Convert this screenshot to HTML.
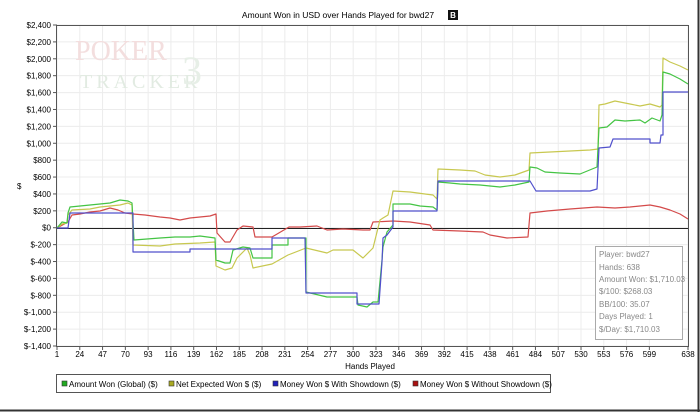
<!DOCTYPE html>
<html><head><style>
body{margin:0;background:#fff;}
svg text{font-family:"Liberation Sans",sans-serif;}
</style></head><body>
<svg width="700" height="412" xmlns="http://www.w3.org/2000/svg">
<rect x="0" y="0" width="700" height="412" fill="#fff"/>
<line x1="0" y1="410.5" x2="700" y2="410.5" stroke="#333" stroke-width="2"/>
<line x1="698.5" y1="0" x2="698.5" y2="412" stroke="#333" stroke-width="2"/>
<text x="338" y="18" font-size="8.5" text-anchor="middle" fill="#000">Amount Won in USD over Hands Played for bwd27</text>
<rect x="448" y="10" width="10" height="10" fill="#111"/>
<text x="453" y="18" font-size="8" font-weight="bold" fill="#fff" text-anchor="middle">B</text>
<g id="grid" stroke="#ececec" stroke-width="1"></g>
<text x="75" y="60" font-size="28" fill="#f3dede" style="font-family:'Liberation Serif',serif">POKER</text>
<text x="80" y="88" font-size="20" fill="#e2ebe2" style="font-family:'Liberation Serif',serif" letter-spacing="4">TRACKER</text>
<text x="182" y="84" font-size="40" fill="#e7efe7" style="font-family:'Liberation Serif',serif">3</text>
<g id="ticks" font-size="8" fill="#000"></g>
<line x1="57" y1="228.5" x2="688" y2="228.5" stroke="#222" stroke-width="1"/>
<g fill="none" stroke-width="1.2" stroke-linejoin="round">
<polyline stroke="#d44a4a" points="57,228 68,222 72,215 80,214 90,212 100,211 110,208 118,210 125,213 133,214 145,215 160,217 170,218 180,220 190,218 200,217 210,216 216,214 217,233 225,242 230,242 237,230 243,226 253,227 255,237 272,237 289,227 300,227 317,226 327,230 343,229 363,230 370,230 373,222 393,221 410,222 430,225 433,230 460,231 483,232 490,235 507,238 528,237 530,213 547,211 570,209 597,207 615,208 630,207 650,205 660,207 670,210 680,214 688,219"/>
<polyline stroke="#c8c850" points="57,228 62,224 67,223 68,215 72,210 90,209 100,207 110,206 120,205 128,203 132,205 133,245 160,246 175,244 200,243 215,242 216,266 225,270 232,268 237,258 247,248 250,255 253,268 272,264 288,255 306,248 327,253 333,250 353,250 363,258 373,248 380,220 383,218 388,215 393,191 410,192 425,194 433,195 437,199 438,169 460,170 475,171 485,175 500,177 515,175 529,170 530,153 550,152 570,151 590,150 598,149 599,105 605,104 615,101 630,104 640,106 650,104 660,107 662,105 663,58 670,62 680,66 688,70"/>
<polyline stroke="#44c444" points="57,228 62,222 67,223 68,213 70,207 80,206 90,205 100,204 110,203 120,200 128,201 132,203 134,240 160,238 175,237 190,237 200,236 215,238 216,260 225,263 230,263 233,250 243,247 250,248 253,258 272,258 272,245 288,245 288,238 306,238 306,292 327,297 357,297 358,305 367,307 373,302 378,302 382,260 383,247 387,232 393,225 393,204 410,204 420,206 433,207 437,210 438,182 450,183 460,184 480,185 500,187 515,185 529,182 530,167 537,168 545,172 560,173 580,174 597,167 599,128 607,127 615,120 625,121 640,120 645,123 652,118 660,121 662,115 663,72 670,74 680,79 688,84"/>
<polyline stroke="#5050cc" points="57,228 68,228 70,213 133,213 133,252 190,252 190,249 245,249 255,249 272,249 272,238 305,238 306,293 357,293 357,304 379,304 382,262 383,238 387,235 393,227 393,211 437,211 438,181 529,181 530,181 536,191 590,191 597,189 599,148 610,147 613,139 650,139 650,143 660,143 661,135 663,135 663,92 688,92"/>
</g>
<line x1="56.5" y1="25" x2="56.5" y2="347" stroke="#555"/>
<line x1="56" y1="346.5" x2="688" y2="346.5" stroke="#555"/>
<line x1="688.5" y1="25" x2="688.5" y2="347" stroke="#555"/>
<line x1="56" y1="25.5" x2="688" y2="25.5" stroke="#555"/>
<text x="17" y="189" font-size="8" fill="#000">$</text>
<text x="370" y="369" font-size="8" text-anchor="middle" fill="#000">Hands Played</text>
<rect x="595.5" y="246.5" width="87" height="93" fill="#fff" stroke="#aaa"/>
<g font-size="8" fill="#888">
<text x="599" y="257">Player: bwd27</text>
<text x="599" y="270">Hands: 638</text>
<text x="599" y="282">Amount Won: $1,710.03</text>
<text x="599" y="294">$/100: $268.03</text>
<text x="599" y="307">BB/100: 35.07</text>
<text x="599" y="319">Days Played: 1</text>
<text x="599" y="332">$/Day: $1,710.03</text>
</g>
<rect x="56.5" y="374.5" width="494" height="18" fill="#fff" stroke="#555"/>
<g font-size="8" fill="#000">
<rect x="62" y="381" width="5" height="5" fill="#2a2" stroke="#333" stroke-width="0.6"/><text x="69" y="387">Amount Won (Global) ($)</text>
<rect x="169" y="381" width="5" height="5" fill="#aa2" stroke="#333" stroke-width="0.6"/><text x="176" y="387">Net Expected Won $ ($)</text>
<rect x="273" y="381" width="5" height="5" fill="#22b" stroke="#333" stroke-width="0.6"/><text x="280" y="387">Money Won $ With Showdown ($)</text>
<rect x="413" y="381" width="5" height="5" fill="#a11" stroke="#333" stroke-width="0.6"/><text x="420" y="387">Money Won $ Without Showdown ($)</text>
</g>
<script>
var g=document.getElementById('grid'),t=document.getElementById('ticks'),ns='http://www.w3.org/2000/svg';
function mk(n,a,p){var e=document.createElementNS(ns,n);for(var k in a)e.setAttribute(k,a[k]);p.appendChild(e);return e;}
for(var i=0;i<=19;i++){var v=2400-200*i,y=25+i*321/19;
 mk('line',{x1:57,x2:688,y1:y,y2:y},g);
 mk('line',{x1:53,x2:57,y1:y,y2:y,stroke:'#555'},t);
 var s=v<0?'$-'+Math.abs(v).toLocaleString('en-US'):'$'+v.toLocaleString('en-US');
 var tx=mk('text',{x:51,y:y+3,'text-anchor':'end'},t);tx.textContent=s;}
var hs=[];for(var h=1;h<=599;h+=23)hs.push(h);hs.push(638);
hs.forEach(function(h){var x=57+(h-1)*631/637;
 mk('line',{x1:x,x2:x,y1:25,y2:346},g);
 mk('line',{x1:x,x2:x,y1:346,y2:350,stroke:'#555'},t);
 var tx=mk('text',{x:x,y:357,'text-anchor':'middle'},t);tx.textContent=h;});
</script>
</svg>
</body></html>
